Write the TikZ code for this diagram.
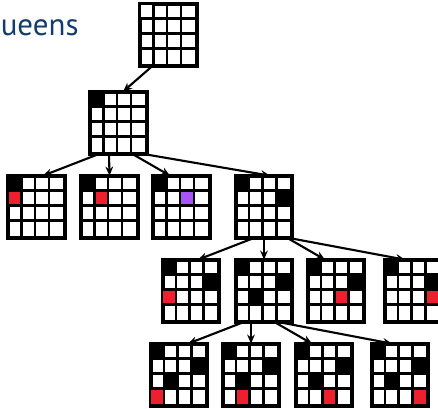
\documentclass[tikz,border=0pt]{standalone}
\usepackage{fontspec}
\setsansfont{PT Sans}
\usetikzlibrary{arrows.meta,calc}
\definecolor{qred}{RGB}{237,32,45}
\definecolor{qpurple}{RGB}{168,85,247}
\definecolor{titleblue}{RGB}{18,60,110}
\tikzset{
  board/.style={draw, line width=1.9pt, minimum width=1.375cm, minimum height=1.5cm, inner sep=0pt},
  gridline/.style={line width=1.9pt},
  move/.style={-{Stealth[length=6.5pt,width=5.5pt]}, line width=1.5pt},
}
% name, centre, cells row/col/colour
\newcommand{\qboard}[3]{%
  \node[board] (#1) at (#2) {};
  \foreach \qr/\qc/\qf in {#3}
    \fill[\qf] ($(#1.north west)+(\qc*13.75,\qr*15)$) rectangle ++(13.75,15);
  \foreach \qi in {1,2,3} {
    \draw[gridline] ($(#1.north west)+(\qi*13.75,0)$) -- ($(#1.south west)+(\qi*13.75,0)$);
    \draw[gridline] ($(#1.north west)+(0,\qi*15)$) -- ($(#1.north east)+(0,\qi*15)$);
  }
  \draw[gridline] (#1.north west) rectangle (#1.south east);
}
\begin{document}
\begin{tikzpicture}[x=0.025cm,y=-0.025cm]
\useasboundingbox (0,0) rectangle (438,408);
\node[anchor=base west, font=\sffamily\fontsize{22}{26}\selectfont, text=titleblue, inner sep=0pt] (title) at (0.5,35) {ueens};
% empty board
\qboard{top}{168.5,35}{0/0/white}
% first queen
\qboard{l1}{118.5,123}{0/0/black}
% second queen
\qboard{a1}{36.5,207}{0/0/black,1/0/qred}
\qboard{a2}{109.5,207}{0/0/black,1/1/qred}
\qboard{a3}{181.5,207}{0/0/black,1/2/qpurple}
\qboard{a4}{264,207}{0/0/black,1/3/black}
% third queen
\qboard{b1}{191,291}{0/0/black,1/3/black,2/0/qred}
\qboard{b2}{264,291}{0/0/black,1/3/black,2/1/black}
\qboard{b3}{336,291}{0/0/black,1/3/black,2/2/qred}
\qboard{b4}{413,291}{0/0/black,1/3/black,2/3/qred}
% fourth queen
\qboard{c1}{179,375}{0/0/black,1/3/black,2/1/black,3/0/qred}
\qboard{c2}{251,375}{0/0/black,1/3/black,2/1/black,3/1/qred}
\qboard{c3}{324,375}{0/0/black,1/3/black,2/1/black,3/2/qred}
\qboard{c4}{400,375}{0/0/black,1/3/black,2/1/black,3/3/qred}
% moves
\draw[move] ($(top.south)+(-16.5,0)$) -- ($(l1.north)+(4.5,0)$);
\draw[move] ($(l1.south)+(-20.5,0)$) -- ($(a1.north)+(6.5,0)$);
\draw[move] ($(l1.south)+(-9.5,0)$) -- (a2.north);
\draw[move] ($(l1.south)+(14.5,0)$) -- ($(a3.north)+(-11.5,0)$);
\draw[move] ($(l1.south)+(27,0)$) -- ($(a4.north)+(6,0)$);
\draw[move] ($(a4.south)+(-11,0)$) -- ($(b1.north)+(7,0)$);
\draw[move] (a4.south) -- (b2.north);
\draw[move] ($(a4.south)+(24,0)$) -- ($(b3.north)+(-11,0)$);
\draw[move] ($(a4.south)+(27,0)$) -- ($(b4.north)+(-8,0)$);
\draw[move] ($(b2.south)+(-21,0)$) -- ($(c1.north)+(9,0)$);
\draw[move] ($(b2.south)+(-13,0)$) -- (c2.north);
\draw[move] ($(b2.south)+(11,0)$) -- ($(c3.north)+(-12,0)$);
\draw[move] ($(b2.south)+(16,0)$) -- ($(c4.north)+(-8,0)$);
\end{tikzpicture}
\end{document}
